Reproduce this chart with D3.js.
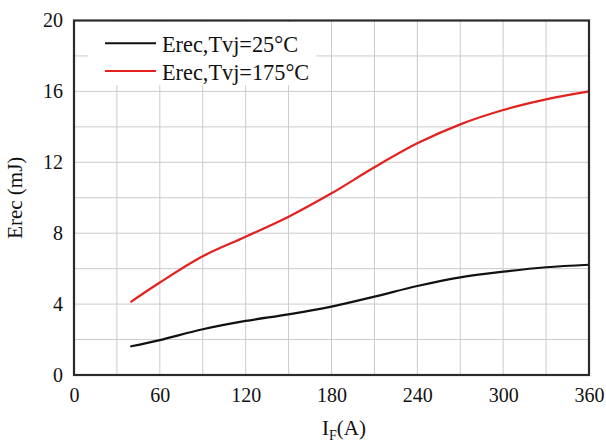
<!DOCTYPE html>
<html>
<head>
<meta charset="utf-8">
<script src="https://cdn.jsdelivr.net/npm/d3@7/dist/d3.min.js"></script>
<style>
  html, body { margin: 0; padding: 0; background: #fff; }
  svg text { font-family: "Liberation Serif", "Times New Roman", serif !important; }
</style>
</head>
<body>
<svg id="chart" width="606" height="443"></svg>
<script>
// Forward current (A)
const current = [40, 60, 90, 120, 150, 180, 210, 240, 270, 300, 330, 360];
// Reverse recovery energy (mJ)
const erec25 = [1.62, 1.97, 2.58, 3.05, 3.42, 3.86, 4.42, 5.02, 5.51, 5.83, 6.08, 6.22];
const erec175 = [4.14, 5.22, 6.7, 7.8, 8.93, 10.25, 11.72, 13.07, 14.14, 14.95, 15.55, 16.0];

const xTicks = [0, 60, 120, 180, 240, 300, 360];
const yTicks = [0, 4, 8, 12, 16, 20];
const xGrid = d3.range(0, 361, 30);
const yGrid = d3.range(0, 21, 2);

const seriesNames = ["Erec,Tvj=25°C", "Erec,Tvj=175°C"];
const seriesColors = ["#111111", "#e3211f"];

const serif = "'Liberation Serif', 'Times New Roman', serif";
const svg = d3.select("#chart");
const plotL = 74, plotR = 589, plotT = 20.5, plotB = 375;

const x = d3.scaleLinear().domain([0, 360]).range([plotL, plotR]);
const y = d3.scaleLinear().domain([0, 20]).range([plotB, plotT]);

// grid
const grid = svg.append("g").attr("stroke", "#cbcbcb").attr("stroke-width", 1);
grid.selectAll("line.v").data(xGrid).join("line")
  .attr("x1", d => x(d)).attr("x2", d => x(d))
  .attr("y1", plotT).attr("y2", plotB);
grid.selectAll("line.h").data(yGrid).join("line")
  .attr("x1", plotL).attr("x2", plotR)
  .attr("y1", d => y(d)).attr("y2", d => y(d));

// axes (labels only, the frame is drawn separately)
const xAxis = svg.append("g").attr("transform", `translate(0,${plotB})`)
  .call(d3.axisBottom(x).tickValues(xTicks).tickSize(0).tickPadding(13));
const yAxis = svg.append("g").attr("transform", `translate(${plotL},0)`)
  .call(d3.axisLeft(y).tickValues(yTicks).tickSize(0).tickPadding(11));
[xAxis, yAxis].forEach(a => {
  a.attr("font-family", null).style("font-family", serif);
  a.select(".domain").remove();
  a.selectAll("text").attr("font-size", 20).attr("fill", "#111")
    .style("font-family", serif);
});

// legend
const legend = svg.append("g");
legend.append("rect").attr("x", 88).attr("y", 22).attr("width", 228).attr("height", 63).attr("fill", "#fff");
seriesNames.forEach((name, i) => {
  const ly = 43.3 + i * 27.7;
  legend.append("line").attr("x1", 105).attr("x2", 156).attr("y1", ly).attr("y2", ly)
    .attr("stroke", seriesColors[i]).attr("stroke-width", 2);
  legend.append("text").attr("x", 162).attr("y", ly + 8.5)
    .attr("font-size", 22.3).attr("fill", "#111").style("font-family", serif).text(name);
});

// curves
const line = d3.line().x(d => x(d[0])).y(d => y(d[1])).curve(d3.curveCatmullRom.alpha(0.5));
[erec25, erec175].forEach((vals, i) => {
  svg.append("path")
    .datum(current.map((c, j) => [c, vals[j]]))
    .attr("fill", "none").attr("stroke", seriesColors[i]).attr("stroke-width", 2.2)
    .attr("stroke-linejoin", "round").attr("stroke-linecap", "round")
    .attr("d", line);
});

// frame
svg.append("rect").attr("x", plotL).attr("y", plotT)
  .attr("width", plotR - plotL).attr("height", plotB - plotT)
  .attr("fill", "none").attr("stroke", "#2a2a2a").attr("stroke-width", 2.2);

// axis titles
svg.append("text")
  .attr("transform", `translate(22,${(plotT + plotB) / 2}) rotate(-90)`)
  .attr("text-anchor", "middle").attr("font-size", 21).attr("fill", "#111")
  .style("font-family", serif)
  .text("Erec (mJ)");

const xt = svg.append("text").attr("x", 344).attr("y", 435)
  .attr("text-anchor", "middle").attr("font-size", 21).attr("fill", "#111")
  .style("font-family", serif);
xt.append("tspan").text("I");
xt.append("tspan").attr("font-size", 14).attr("dy", 5).text("F");
xt.append("tspan").attr("dy", -5).text("(A)");
</script>
</body>
</html>
